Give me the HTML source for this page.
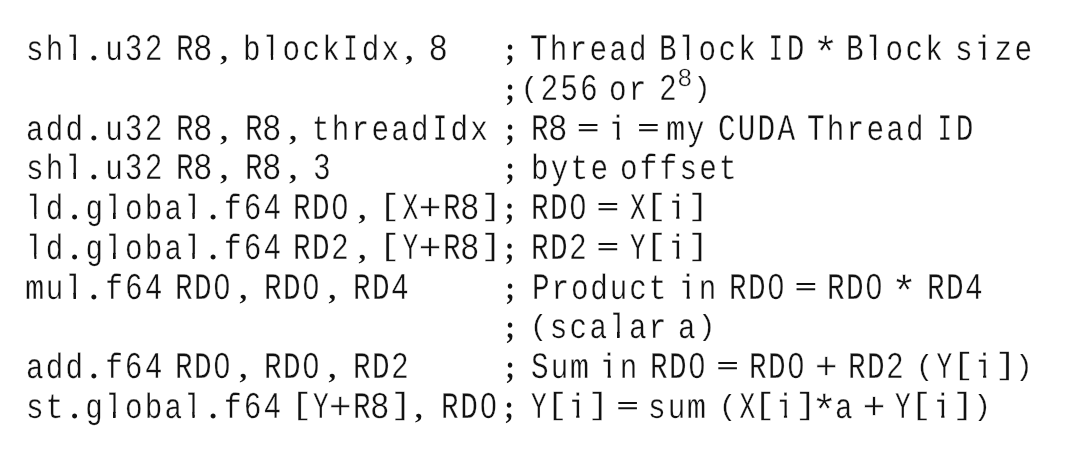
<!DOCTYPE html>
<html lang="en"><head><meta charset="utf-8"><title>CUDA PTX listing</title>
<style>
html,body{margin:0;padding:0;background:#fff}
body{width:1078px;height:450px;position:relative;overflow:hidden;font-family:"Liberation Mono",monospace;color:#111;text-rendering:geometricPrecision;will-change:transform}
pre,code{margin:0;padding:0;font:inherit}
.ln>span{position:absolute;display:block;white-space:pre;line-height:40px}
.t{-webkit-text-stroke:0.33px #fff;font-size:34.7px;letter-spacing:2.609px;transform-origin:0 28px;transform:scale(0.845,1.013)}
.t b,.t u,.t i,.t em{display:inline-block;line-height:0;font-weight:normal;font-style:normal;text-decoration:none}
.t b{transform-origin:0 8.00px;transform:scaleY(1.065)}
.t u{font-family:"Liberation Sans",sans-serif;letter-spacing:4.133px;text-indent:0.762px;margin-right:-0.762px;transform-origin:50% 11.00px;transform:scale(1.0,1.03)}
.t em{-webkit-text-stroke:0;font:bold 30.8px/0 "Liberation Serif",serif;letter-spacing:0;width:20.823px;margin-right:2.609px;text-align:center;transform:scaleX(1.1834)}
.t em.c{transform-origin:50% 8.0px;transform:translateX(-0.6px) scale(1.1479,0.95)}
.t em.s{transform-origin:50% 10.0px;transform:translate(0.5px,-0.4px) scale(1.0651,1.06)}
.pl{transform-origin:10.45px -10.90px;transform:translateX(-0.33px) scale(1.0,0.825)}
.pr{transform-origin:10.34px -10.90px;transform:translateX(0.37px) scale(1.0,0.825)}
.bl{transform-origin:11.58px -19.90px;transform:translateX(-1.17px) scale(1.2,0.87)}
.br{transform-origin:9.21px -19.90px;transform:translateX(1.20px) scale(1.2,0.87)}
.t b.x{transform-origin:10.41px 8.00px;transform:scale(0.89,1.065)}
.cm{transform-origin:10.41px 0;transform:scaleX(1.1)}
.cl{position:relative}
.cl::after{content:"";position:absolute;left:9.61px;width:2.25px;top:2.00px;height:5.75px;background:#111}
.t b.n{transform-origin:10.41px 8.00px;transform:scale(0.8,1.065)}
.d8{transform:translateX(-1.6px) scale(1.1,1.03)!important}
.ci{clip-path:polygon(-5px -40px,30px -40px,30px 4.40px,12.97px 4.40px,12.97px 20px,9.22px 20px,9.22px 4.40px,-5px 4.40px);transform:translateX(-0.2px)}
.cl{clip-path:polygon(-5px -40px,30px -40px,30px 3.00px,12.31px 3.00px,12.31px 20px,9.07px 20px,9.07px 3.00px,-5px 3.00px)}
.l0{top:32px}
.l1{top:72px}
.l2{top:112px}
.l3{top:151px}
.l4{top:191px}
.l5{top:231px}
.l6{top:271px}
.l7{top:310px}
.l8{top:350px}
.l9{top:390px}
.e{font-size:37.1px;transform:translate(0px,0.5px) scale(1.0,0.525);font-weight:bold}
.p{font-size:38.5px;transform:translate(0px,1.0px) scale(1.0,1.0);-webkit-text-stroke:0.6px #fff}
.a{font-size:43.5px;transform:translate(0px,2.0px) scale(1.0,1.0);-webkit-text-stroke:0.5px #fff}
.sup{font-size:24.8px;transform:translate(0px,2.0px) scale(1.02,1.0);-webkit-text-stroke:0.4px #fff;font-family:"Liberation Sans",sans-serif}
</style></head>
<body>
<pre><code><span class="ln"><span class="t l0" style="left:26.20px">sh<i class="cl">l</i><em>.</em>u<u>3</u><u>2</u></span><span class="t l0" style="left:175.65px"><b>R</b><u class="d8">8</u><em class="c">,</em></span><span class="t l0" style="left:243.20px">b<i class="cl">l</i>ock<b class="n">I</b>dx<em class="c">,</em></span><span class="t l0" style="left:430.90px"><u class="d8">8</u></span><span class="t l0" style="left:500.50px"><em class="s">;</em></span><span class="t l0" style="left:530.00px"><b>T</b>hread</span><span class="t l0" style="left:659.20px"><b>B</b><i class="cl">l</i>ock</span><span class="t l0" style="left:767.40px"><b class="n">I</b><b>D</b></span><span class="a" style="left:812.46px;top:35.00px;transform-origin:13.04px 7.71px">*</span><span class="t l0" style="left:846.40px"><b>B</b><i class="cl">l</i>ock</span><span class="t l0" style="left:954.60px">s<i class="ci">i</i>ze</span></span>
<span class="ln"><span class="t l1" style="left:500.50px"><em class="s">;</em><i class="pl">(</i><u>2</u><u>5</u><u>6</u></span><span class="t l1" style="left:609.30px">or</span><span class="t l1" style="left:659.35px"><u>2</u></span><span class="sup" style="left:678.00px;top:57.00px;transform-origin:6.90px 20.06px">8</span><span class="t l1" style="left:693.00px"><i class="pr">)</i></span></span>
<span class="ln"><span class="t l2" style="left:26.20px">add<em>.</em>u<u>3</u><u>2</u></span><span class="t l2" style="left:175.65px"><b>R</b><u class="d8">8</u><em class="c">,</em></span><span class="t l2" style="left:244.80px"><b>R</b><u class="d8">8</u><em class="c">,</em></span><span class="t l2" style="left:312.40px">thread<b class="n">I</b>dx</span><span class="t l2" style="left:500.50px"><em class="s">;</em></span><span class="t l2" style="left:531.30px"><b>R</b><u class="d8">8</u></span><span class="e" style="left:577.07px;top:110.00px;transform-origin:11.13px 17.59px">=</span><span class="t l2" style="left:608.80px"><i class="ci">i</i></span><span class="e" style="left:637.27px;top:110.00px;transform-origin:11.13px 17.59px">=</span><span class="t l2" style="left:667.40px"><i class="cm">m</i>y</span><span class="t l2" style="left:718.30px"><b>CUDA</b></span><span class="t l2" style="left:807.00px"><b>T</b>hread</span><span class="t l2" style="left:935.70px"><b class="n">I</b><b>D</b></span></span>
<span class="ln"><span class="t l3" style="left:26.20px">sh<i class="cl">l</i><em>.</em>u<u>3</u><u>2</u></span><span class="t l3" style="left:175.65px"><b>R</b><u class="d8">8</u><em class="c">,</em></span><span class="t l3" style="left:244.80px"><b>R</b><u class="d8">8</u><em class="c">,</em></span><span class="t l3" style="left:312.95px"><u>3</u></span><span class="t l3" style="left:500.50px"><em class="s">;</em></span><span class="t l3" style="left:531.20px">byte</span><span class="t l3" style="left:620.45px">offset</span></span>
<span class="ln"><span class="t l4" style="left:26.20px"><i class="cl">l</i>d<em>.</em>g<i class="cl">l</i>oba<i class="cl">l</i><em>.</em>f<u>6</u><u>4</u></span><span class="t l4" style="left:293.45px;letter-spacing:1.780px"><b>RD</b><u>0</u></span><span class="t l4" style="left:353.55px"><em class="c">,</em></span><span class="t l4" style="left:381.50px"><i class="bl">[</i><b class="x">X</b></span><span class="p" style="left:418.47px;top:189.00px;transform-origin:11.53px 17.44px">+</span><span class="t l4" style="left:442.90px"><b>R</b><u class="d8">8</u></span><span class="t l4" style="left:480.70px"><i class="br">]</i><em class="s">;</em></span><span class="t l4" style="left:530.70px;letter-spacing:1.780px"><b>RD</b><u>0</u></span><span class="e" style="left:596.87px;top:189.00px;transform-origin:11.13px 17.59px">=</span><span class="t l4" style="left:629.20px"><b class="x">X</b><i class="bl">[</i><i class="ci">i</i><i class="br">]</i></span></span>
<span class="ln"><span class="t l5" style="left:26.20px"><i class="cl">l</i>d<em>.</em>g<i class="cl">l</i>oba<i class="cl">l</i><em>.</em>f<u>6</u><u>4</u></span><span class="t l5" style="left:293.45px;letter-spacing:1.780px"><b>RD</b><u>2</u></span><span class="t l5" style="left:353.55px"><em class="c">,</em></span><span class="t l5" style="left:381.50px"><i class="bl">[</i><b class="x">Y</b></span><span class="p" style="left:418.47px;top:229.00px;transform-origin:11.53px 17.44px">+</span><span class="t l5" style="left:442.90px"><b>R</b><u class="d8">8</u></span><span class="t l5" style="left:480.70px"><i class="br">]</i><em class="s">;</em></span><span class="t l5" style="left:530.70px;letter-spacing:1.780px"><b>RD</b><u>2</u></span><span class="e" style="left:596.87px;top:229.00px;transform-origin:11.13px 17.59px">=</span><span class="t l5" style="left:629.20px"><b class="x">Y</b><i class="bl">[</i><i class="ci">i</i><i class="br">]</i></span></span>
<span class="ln"><span class="t l6" style="left:26.20px"><i class="cm">m</i>u<i class="cl">l</i><em>.</em>f<u>6</u><u>4</u></span><span class="t l6" style="left:174.95px;letter-spacing:1.780px"><b>RD</b><u>0</u></span><span class="t l6" style="left:235.05px"><em class="c">,</em></span><span class="t l6" style="left:263.95px;letter-spacing:1.780px"><b>RD</b><u>0</u></span><span class="t l6" style="left:324.05px"><em class="c">,</em></span><span class="t l6" style="left:352.95px;letter-spacing:1.780px"><b>RD</b><u>4</u></span><span class="t l6" style="left:500.50px"><em class="s">;</em></span><span class="t l6" style="left:532.10px;letter-spacing:2.194px"><b>P</b>roduct</span><span class="t l6" style="left:678.70px"><i class="ci">i</i>n</span><span class="t l6" style="left:729.45px;letter-spacing:1.780px"><b>RD</b><u>0</u></span><span class="e" style="left:794.67px;top:269.00px;transform-origin:11.13px 17.59px">=</span><span class="t l6" style="left:827.15px;letter-spacing:1.780px"><b>RD</b><u>0</u></span><span class="a" style="left:891.06px;top:274.00px;transform-origin:13.04px 7.71px">*</span><span class="t l6" style="left:926.70px;letter-spacing:1.780px"><b>RD</b><u>4</u></span></span>
<span class="ln"><span class="t l7" style="left:500.50px"><em class="s">;</em></span><span class="t l7" style="left:529.50px"><i class="pl">(</i>sca<i class="cl">l</i>ar</span><span class="t l7" style="left:678.20px">a<i class="pr">)</i></span></span>
<span class="ln"><span class="t l8" style="left:26.20px">add<em>.</em>f<u>6</u><u>4</u></span><span class="t l8" style="left:174.95px;letter-spacing:1.780px"><b>RD</b><u>0</u></span><span class="t l8" style="left:235.05px"><em class="c">,</em></span><span class="t l8" style="left:263.95px;letter-spacing:1.780px"><b>RD</b><u>0</u></span><span class="t l8" style="left:324.05px"><em class="c">,</em></span><span class="t l8" style="left:352.95px;letter-spacing:1.780px"><b>RD</b><u>2</u></span><span class="t l8" style="left:500.50px"><em class="s">;</em></span><span class="t l8" style="left:531.30px"><b>S</b>u<i class="cm">m</i></span><span class="t l8" style="left:599.50px"><i class="ci">i</i>n</span><span class="t l8" style="left:650.20px;letter-spacing:1.780px"><b>RD</b><u>0</u></span><span class="e" style="left:716.42px;top:348.00px;transform-origin:11.13px 17.59px">=</span><span class="t l8" style="left:749.40px;letter-spacing:1.780px"><b>RD</b><u>0</u></span><span class="p" style="left:814.82px;top:348.00px;transform-origin:11.53px 17.44px">+</span><span class="t l8" style="left:847.90px;letter-spacing:1.780px"><b>RD</b><u>2</u></span><span class="t l8" style="left:916.05px"><i class="pl">(</i><b class="x">Y</b><i class="bl">[</i><i class="ci">i</i><i class="br">]</i><i class="pr">)</i></span></span>
<span class="ln"><span class="t l9" style="left:26.20px">st<em>.</em>g<i class="cl">l</i>oba<i class="cl">l</i><em>.</em>f<u>6</u><u>4</u></span><span class="t l9" style="left:293.50px"><i class="bl">[</i></span><span class="t l9" style="left:312.00px"><b class="x">Y</b></span><span class="p" style="left:328.77px;top:388.00px;transform-origin:11.53px 17.44px">+</span><span class="t l9" style="left:353.30px"><b>R</b><u class="d8">8</u></span><span class="t l9" style="left:391.30px"><i class="br">]</i><em class="c">,</em></span><span class="t l9" style="left:441.40px;letter-spacing:2.017px"><b>RD</b><u>0</u></span><span class="t l9" style="left:500.10px"><em class="s">;</em></span><span class="t l9" style="left:530.35px;letter-spacing:2.017px"><b class="x">Y</b><i class="bl">[</i><i class="ci">i</i><i class="br">]</i></span><span class="e" style="left:616.57px;top:388.00px;transform-origin:11.13px 17.59px">=</span><span class="t l9" style="left:648.35px">su<i class="cm">m</i></span><span class="t l9" style="left:719.30px"><i class="pl">(</i><b class="x">X</b></span><span class="t l9" style="left:756.90px;letter-spacing:2.017px"><i class="bl">[</i><i class="ci">i</i><i class="br">]</i></span><span class="a" style="left:811.16px;top:393.00px;transform-origin:13.04px 7.71px">*</span><span class="t l9" style="left:834.70px">a</span><span class="p" style="left:862.42px;top:388.00px;transform-origin:11.53px 17.44px">+</span><span class="t l9" style="left:893.85px"><b class="x">Y</b><i class="bl">[</i><i class="ci">i</i><i class="br">]</i><i class="pr">)</i></span></span></code></pre>
</body></html>
